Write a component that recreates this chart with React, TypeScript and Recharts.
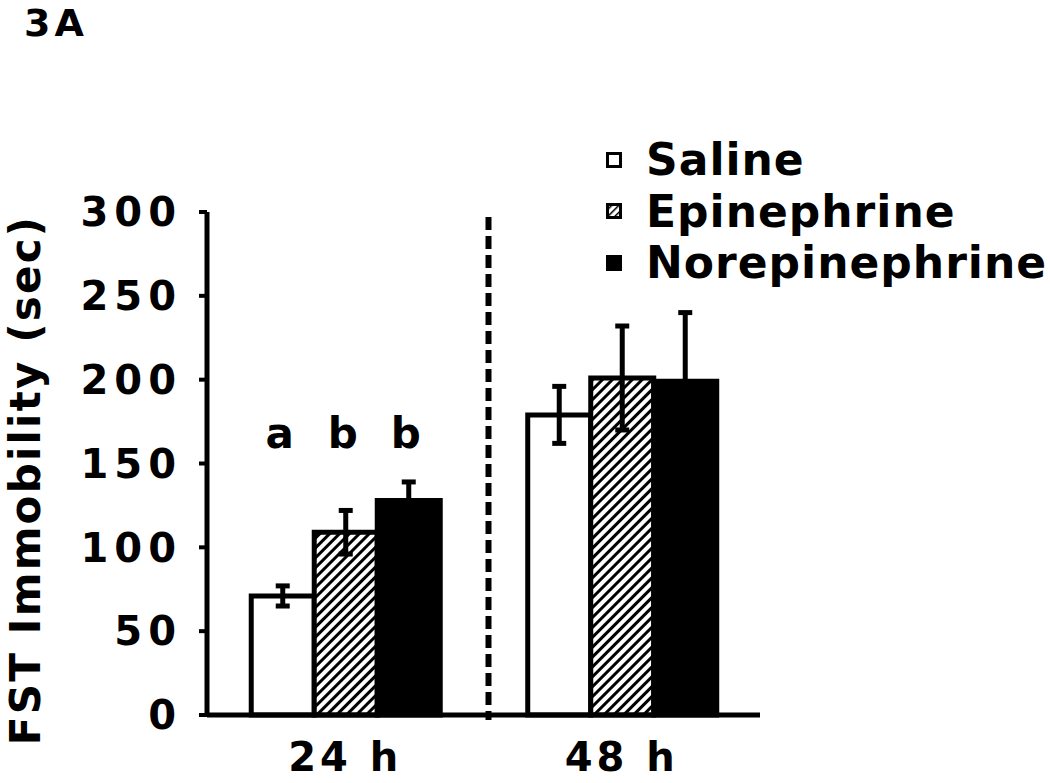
import { Bar, BarChart, ErrorBar, LabelList, ReferenceLine, XAxis, YAxis } from "recharts";

const categories = ["24 h", "48 h"];
const salineMean = [71, 179];
const salineErr = [6, 17];
const epiMean = [109, 201];
const epiErr = [13, 31];
const norepiMean = [128, 199];
const norepiErr = [11, 41];
const letters24h = ["a", "b", "b"];
const yTicks = [0, 50, 100, 150, 200, 250, 300];
const seriesNames = ["Saline", "Epinephrine", "Norepinephrine"];
const yTitle = "FST Immobility (sec)";

const FONT = "'DejaVu Sans', Verdana, sans-serif";

const data = categories.map((name, i) => ({
  name,
  saline: salineMean[i],
  salineErr: salineErr[i],
  epi: epiMean[i],
  epiErr: epiErr[i],
  norepi: norepiMean[i],
  norepiErr: norepiErr[i],
}));

// letter sits at a fixed value height above the 24 h bars
const LETTER_LEVEL = 159;

const letterContent = (letter: string) => (props: any) => {
  const { x, y, width, height, value, index } = props;
  if (index !== 0 || !value) return null;
  const base = y + height;
  const py = base - (LETTER_LEVEL * height) / value;
  return (
    <text x={x + width / 2 - 3} y={py} textAnchor="middle" fontFamily={FONT} fontWeight="bold" fontSize={42} fill="#000">
      {letter}
    </text>
  );
};

const yTitleContent = () => (
  <text
    transform="translate(40, 480) rotate(-90)"
    textAnchor="middle"
    fontFamily={FONT}
    fontWeight="bold"
    fontSize={42}
    letterSpacing={2.2}
    fill="#000"
  >
    {yTitle}
  </text>
);

// dashed separator, nudged a little right of the band edge and slightly past the axis
const separatorShape = (p: any) => {
  const top = Math.min(p.y1, p.y2);
  const bottom = Math.max(p.y1, p.y2);
  return (
    <line
      x1={p.x1 + 5}
      x2={p.x2 + 5}
      y1={top + 5}
      y2={bottom + 5}
      stroke="#000"
      strokeWidth={6}
      strokeDasharray="13 6"
    />
  );
};

function LegendSwatch({ kind }: { kind: number }) {
  return (
    <svg width={16} height={16} style={{ display: "block" }}>
      <defs>
        <pattern id="legHatch" width="5" height="5" patternUnits="userSpaceOnUse" patternTransform="rotate(45)">
          <line x1="0" y1="0" x2="0" y2="5" stroke="#000" strokeWidth="3" />
        </pattern>
      </defs>
      <rect
        x={1.5}
        y={1.5}
        width={13}
        height={13}
        fill={kind === 0 ? "#fff" : kind === 1 ? "url(#legHatch)" : "#000"}
        stroke="#000"
        strokeWidth={3}
      />
    </svg>
  );
}

export default function App() {
  return (
    <div style={{ position: "absolute", left: 0, top: 0, width: 1050, height: 783, background: "#fff" }}>
      <svg width={120} height={44} style={{ position: "absolute", left: 0, top: 0 }}>
        <text x={24} y={36} fontFamily={FONT} fontWeight="bold" fontSize={38} letterSpacing={4} fill="#000">
          3A
        </text>
      </svg>

      <BarChart
        width={1050}
        height={783}
        data={data}
        margin={{ top: 212, right: 290, bottom: 0, left: 0 }}
        barCategoryGap="16%"
        barGap={0}
      >
        <defs>
          <pattern id="hatch" width="7" height="7" patternUnits="userSpaceOnUse" patternTransform="rotate(45)">
            <rect width="7" height="7" fill="#fff" />
            <line x1="1.5" y1="0" x2="1.5" y2="7" stroke="#000" strokeWidth="3" />
          </pattern>
        </defs>
        <XAxis
          dataKey="name"
          height={68}
          axisLine={{ stroke: "#000", strokeWidth: 5 }}
          tickLine={false}
          tickMargin={22}
          tick={{ fill: "#000", fontSize: 40, fontWeight: "bold", fontFamily: FONT, letterSpacing: 4 }}
        />
        <YAxis
          width={207}
          domain={[0, 300]}
          ticks={yTicks}
          interval={0}
          axisLine={{ stroke: "#000", strokeWidth: 5 }}
          tickLine={{ stroke: "#000", strokeWidth: 4 }}
          tickSize={8}
          tickMargin={17}
          tick={{ fill: "#000", fontSize: 40, fontWeight: "bold", fontFamily: FONT, letterSpacing: 6 }}
          label={yTitleContent}
        />
        <ReferenceLine x={categories[1]} position="start" shape={separatorShape} />
        <Bar dataKey="saline" name={seriesNames[0]} fill="#fff" stroke="#000" strokeWidth={5} isAnimationActive={false}>
          <ErrorBar dataKey="salineErr" width={7} stroke="#000" strokeWidth={5} direction="y" isAnimationActive={false} />
          <LabelList dataKey="saline" content={letterContent(letters24h[0])} />
        </Bar>
        <Bar dataKey="epi" name={seriesNames[1]} fill="url(#hatch)" stroke="#000" strokeWidth={5} isAnimationActive={false}>
          <ErrorBar dataKey="epiErr" width={7} stroke="#000" strokeWidth={5} direction="y" isAnimationActive={false} />
          <LabelList dataKey="epi" content={letterContent(letters24h[1])} />
        </Bar>
        <Bar dataKey="norepi" name={seriesNames[2]} fill="#000" stroke="#000" strokeWidth={5} isAnimationActive={false}>
          <ErrorBar dataKey="norepiErr" width={7} stroke="#000" strokeWidth={5} direction="y" isAnimationActive={false} />
          <LabelList dataKey="norepi" content={letterContent(letters24h[2])} />
        </Bar>
      </BarChart>

      <div style={{ position: "absolute", left: 606, top: 134, fontFamily: FONT, fontWeight: "bold", fontSize: 44 }}>
        {seriesNames.map((n, i) => (
          <div key={n} style={{ display: "flex", alignItems: "center", height: 51.5, letterSpacing: 1 }}>
            <LegendSwatch kind={i} />
            <span style={{ marginLeft: 24, lineHeight: "51px" }}>{n}</span>
          </div>
        ))}
      </div>
    </div>
  );
}
